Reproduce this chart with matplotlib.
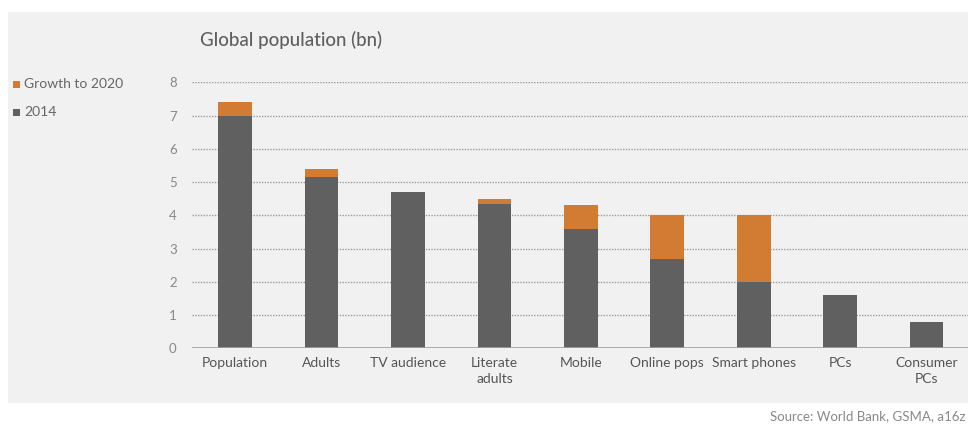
import matplotlib
matplotlib.use("Agg")
import matplotlib.pyplot as plt
from matplotlib.patches import Rectangle

categories = ["Population", "Adults", "TV audience", "Literate\nadults", "Mobile",
              "Online pops", "Smart phones", "PCs", "Consumer\nPCs"]
base_2014 = [7.0, 5.15, 4.7, 4.35, 3.6, 2.7, 2.0, 1.6, 0.8]
growth_2020 = [0.4, 0.25, 0.0, 0.15, 0.7, 1.3, 2.0, 0.0, 0.0]
y_ticks = [0, 1, 2, 3, 4, 5, 6, 7, 8]

plt.rcParams['font.family'] = ['Lato', 'DejaVu Sans']

dark = "#606060"
orange = "#d27b33"
panel_bg = "#f1f1f1"

fig = plt.figure(figsize=(9.71, 4.25), dpi=100)
fig.patch.set_facecolor("white")

# light grey panel behind the chart
fig.patches.append(Rectangle((8 / 971, 1 - 403 / 425), (968 - 8) / 971, (403 - 12) / 425,
                             transform=fig.transFigure, facecolor=panel_bg,
                             edgecolor="none", zorder=-10))

ax = fig.add_axes([192 / 971, 76.7 / 425, (968 - 192) / 971, 266 / 425])
ax.set_facecolor("none")
ax.set_zorder(5)

x = list(range(len(categories)))
w = 0.39
ax.bar(x, base_2014, width=w, color=dark, zorder=3, label="2014")
ax.bar(x, growth_2020, width=w, bottom=base_2014, color=orange, zorder=3,
       label="Growth to 2020")

ax.set_xlim(-0.5, 8.48)
ax.set_ylim(0, 8)
ax.set_yticks(y_ticks)
ax.set_xticks(x)
ax.set_xticklabels(categories, fontsize=10, color="#555555", linespacing=1.45)
ax.tick_params(axis="y", labelsize=9.5, labelcolor="#888888", length=0, pad=11)
ax.tick_params(axis="x", length=0, pad=6)

# dotted horizontal gridlines
ax.hlines(y_ticks[1:], -0.5, 8.48, colors="#9c9c9c", linewidth=1.0,
          linestyles=[(0, (1, 1))], zorder=1)
ax.axhline(0, color="#a0a0a0", linewidth=1.2, zorder=4)

for s in ax.spines.values():
    s.set_visible(False)

fig.text(200 / 971, 1 - 40 / 425, "Global population (bn)", fontsize=13.5,
         color="#606060", va="center", ha="left", fontweight="medium")

# legend drawn as squares + labels at the left of the panel
legend_items = [("Growth to 2020", orange, 84), ("2014", dark, 112)]
for label, col, ypix in legend_items:
    fig.patches.append(Rectangle((13 / 971, 1 - (ypix + 3.5) / 425), 7 / 971, 7 / 425,
                                 transform=fig.transFigure, facecolor=col,
                                 edgecolor="none", zorder=2))
    fig.text(24 / 971, 1 - ypix / 425, label, fontsize=10, color="#666666",
             va="center", ha="left")

fig.text(965 / 971, 1 - 416 / 425, "Source: World Bank, GSMA, a16z", fontsize=9.5,
         color="#888888", va="center", ha="right")

fig.savefig("out.png", dpi=100, facecolor=fig.get_facecolor())
